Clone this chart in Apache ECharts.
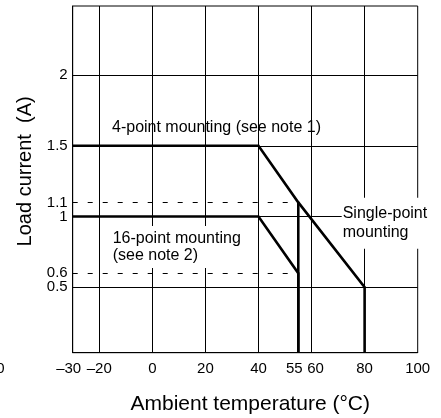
<!DOCTYPE html>
<html>
<head>
<meta charset="utf-8">
<script src="https://cdn.jsdelivr.net/npm/echarts@6/dist/echarts.min.js"></script>
<style>html,body{margin:0;padding:0;background:#fff}#c{width:441px;height:418px}</style>
</head>
<body>
<div id="c"></div>
<script>
// ---- data ----
const xMin = -30, xMax = 100;
const yMin = 0.038, yMax = 2.488;
const xTickLabels = [-30, -20, 0, 20, 40, 55, 60, 80, 100];
const yTickLabels = [0.6, 1, 1.1, 1.5, 2];
const yTickLabelsLow = [0.5];
const xGridValues = [-20, 0, 20, 40, 60, 80];
const yGridValues = [0.5, 1, 1.5, 2];
const dashedLevels = [1.1, 0.6];
const dashedEndX = 55;
// 4-point mounting curve
const fourPointX = [-30, 40, 55, 55];
const fourPointY = [1.5, 1.5, 1.1, yMin];
// single-point mounting continuation
const singlePointX = [55, 80, 80];
const singlePointY = [1.1, 0.5, yMin];
// 16-point mounting curve
const sixteenPointX = [-30, 40, 55, 55];
const sixteenPointY = [1, 1, 0.6, yMin];

const zip = (xs, ys) => xs.map((x, i) => [x, ys[i]]);
const FONT = '"Liberation Sans", Arial, Helvetica, sans-serif';
const fmtNum = v => String(v).replace('-', '\u2013');

const chart = echarts.init(document.getElementById('c'), null, {renderer: 'canvas'});

const gridMarkData = []
  .concat(xGridValues.map(v => ({xAxis: v, lineStyle: {color: '#000', width: 1, type: 'solid'}})))
  .concat(yGridValues.map(v => ({yAxis: v, lineStyle: {color: '#000', width: 1, type: 'solid'}})))
  .concat(dashedLevels.map(v => [
    {coord: [xMin, v], lineStyle: {color: '#000', width: 1, type: [5, 10]}},
    {coord: [dashedEndX, v]}
  ]));

const thick = {color: '#000', width: 2.6, cap: 'butt', join: 'miter'};
const yLabelBase = {margin: 5, color: '#000', fontFamily: FONT, fontSize: 15, hideOverlap: false, formatter: v => String(v)};

const option = {
  animation: false,
  backgroundColor: '#fff',
  grid: {left: 72.7, right: 23.3, top: 6, bottom: 65.3, show: true, borderColor: '#000', borderWidth: 1, outerBoundsMode: 'none', containLabel: false},
  xAxis: {
    type: 'value', min: xMin, max: xMax,
    axisLine: {show: true, onZero: false, lineStyle: {color: '#000', width: 1}},
    axisTick: {show: false},
    splitLine: {show: false},
    axisLabel: {
      customValues: xTickLabels, margin: 9, color: '#000', fontFamily: FONT, fontSize: 15, hideOverlap: false,
      showMinLabel: true, showMaxLabel: true,
      formatter: v => v === 55 ? '{l|55}' : (v === 60 ? '{r|60}' : (v === -30 ? '{l|' + fmtNum(v) + '}' : fmtNum(v))),
      rich: {
        l: {fontFamily: FONT, fontSize: 15, color: '#000', padding: [0, 8, 0, 0]},
        r: {fontFamily: FONT, fontSize: 15, color: '#000', padding: [0, 0, 0, 8]}
      }
    },
    name: 'Ambient temperature (\u00B0C)', nameLocation: 'middle', nameGap: 41,
    nameTextStyle: {color: '#000', fontFamily: FONT, fontSize: 21, padding: [0, 0, 0, 10]}
  },
  yAxis: [{
    type: 'value', min: yMin, max: yMax, position: 'left',
    axisLine: {show: true, onZero: false, lineStyle: {color: '#000', width: 1}},
    axisTick: {show: false},
    splitLine: {show: false},
    axisLabel: Object.assign({customValues: yTickLabels, showMinLabel: true, showMaxLabel: true}, yLabelBase),
    name: 'Load current  (A)', nameLocation: 'middle', nameGap: 36,
    nameTextStyle: {color: '#000', fontFamily: FONT, fontSize: 20, padding: [0, 0, 0, 16]}
  }, {
    type: 'value', min: yMin, max: yMax, position: 'left', offset: 0,
    axisLine: {show: false, onZero: false},
    axisTick: {show: false},
    splitLine: {show: false},
    axisLabel: Object.assign({customValues: yTickLabelsLow, showMinLabel: true, showMaxLabel: true}, yLabelBase)
  }],
  series: [
    {type: 'line', data: [], silent: true, markLine: {silent: true, symbol: 'none', label: {show: false}, animation: false, data: gridMarkData}},
    {type: 'line', name: '4-point', data: zip(fourPointX, fourPointY), symbol: 'none', lineStyle: thick, z: 5},
    {type: 'line', name: 'single-point', data: zip(singlePointX, singlePointY), symbol: 'none', lineStyle: thick, z: 5},
    {type: 'line', name: '16-point', data: zip(sixteenPointX, sixteenPointY), symbol: 'none', lineStyle: thick, z: 5}
  ],
  graphic: [
    {type: 'text', x: 112, y: 128, z: 10, style: {text: '4-point mounting (see note 1)', fill: '#000', font: '16px ' + FONT, textAlign: 'left', textVerticalAlign: 'middle'}},
    {type: 'text', x: 341.7, y: 223.2, z: 10, style: {text: 'Single-point\nmounting', fill: '#000', font: '16px ' + FONT, lineHeight: 18.5, textAlign: 'left', textVerticalAlign: 'middle', backgroundColor: '#fff', padding: [6, 6, 8, 1]}},
    {type: 'text', x: 112.7, y: 247, z: 10, style: {text: '16-point mounting\n(see note 2)', fill: '#000', font: '16px ' + FONT, lineHeight: 17, textAlign: 'left', textVerticalAlign: 'middle', backgroundColor: '#fff', padding: [4, 2, 4, 0]}},
    {type: 'text', x: 4.5, y: 369, z: 10, style: {text: '\u201340', fill: '#000', font: '15px ' + FONT, textAlign: 'right', textVerticalAlign: 'middle'}}
  ]
};
chart.setOption(option);
</script>
</body>
</html>
